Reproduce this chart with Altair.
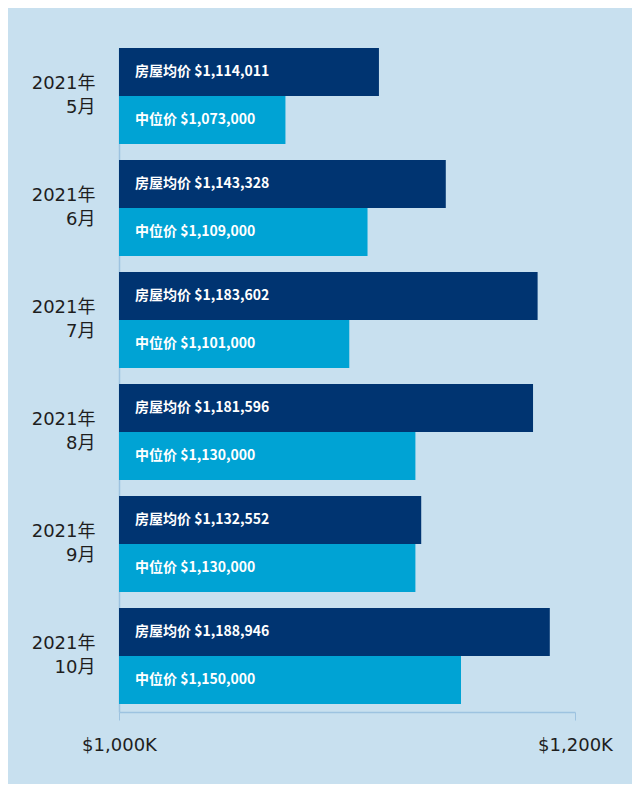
import altair as alt
import pandas as pd

months = ["2021年|5月", "2021年|6月", "2021年|7月", "2021年|8月", "2021年|9月", "2021年|10月"]
avg_values = [1114011, 1143328, 1183602, 1181596, 1132552, 1188946]
median_values = [1073000, 1109000, 1101000, 1130000, 1130000, 1150000]
avg_labels = ["房屋均价 $1,114,011", "房屋均价 $1,143,328", "房屋均价 $1,183,602",
              "房屋均价 $1,181,596", "房屋均价  $1,132,552", "房屋均价 $1,188,946"]
median_labels = ["中位价 $1,073,000", "中位价 $1,109,000", "中位价 $1,101,000",
                 "中位价 $1,130,000", "中位价 $1,130,000", "中位价 $1,150,000"]
series = ["房屋均价", "中位价"]
colors = ["#003471", "#00a3d4"]

rows = []
for i, m in enumerate(months):
    rows.append({"month": m, "series": series[0], "value": avg_values[i], "label": avg_labels[i]})
    rows.append({"month": m, "series": series[1], "value": median_values[i], "label": median_labels[i]})
df = pd.DataFrame(rows)

FONT = "Noto Sans CJK SC"
AXIS_FONT = "DejaVu Sans, Noto Sans CJK SC"

y_enc = alt.Y("month:N", sort=months,
              scale=alt.Scale(paddingInner=1/7, paddingOuter=1/28, align=0),
              axis=alt.Axis(title=None, labelExpr="split(datum.label, '|')",
                            labelFont=AXIS_FONT, labelFontSize=18, labelColor="#1e1e1e",
                            labelLineHeight=24, labelPadding=24, ticks=False, labelOffset=-12,
                            domainColor="#9dc3e0", domainWidth=1.5, labelAlign="right"))
yoff = alt.YOffset("series:N", sort=series, scale=alt.Scale(paddingInner=0, paddingOuter=0))

bars = alt.Chart(df).mark_bar().encode(
    y=y_enc,
    yOffset=yoff,
    x=alt.X("value:Q",
            scale=alt.Scale(domain=[1000000, 1200000], nice=False, zero=False, clamp=True),
            axis=alt.Axis(title=None, values=[1000000, 1200000],
                          labelExpr="'$' + format(datum.value/1000, ',') + 'K'",
                          labelFont=AXIS_FONT, labelFontSize=18, labelColor="#1e1e1e",
                          labelPadding=16, grid=False, tickSize=8, tickColor="#9dc3e0",
                          domainColor="#9dc3e0", domainWidth=1.5, labelFlush=False)),
    color=alt.Color("series:N", sort=series, scale=alt.Scale(domain=series, range=colors), legend=None),
)

labels = alt.Chart(df).mark_text(align="left", baseline="middle", dx=16, color="white",
                                 font=FONT, fontSize=14, fontWeight="bold").encode(
    y=alt.Y("month:N", sort=months),
    yOffset=yoff,
    x=alt.datum(1000000),
    text="label:N",
)

chart = (bars + labels).properties(
    width=456, height=664,
    background="#c8e0ef",
    padding={"left": 111, "top": 40, "right": 57, "bottom": 72},
    autosize=alt.AutoSizeParams(type="none"),
).configure_view(stroke=None)

chart.save("out.html", embed_options={"renderer": "svg", "actions": False})
